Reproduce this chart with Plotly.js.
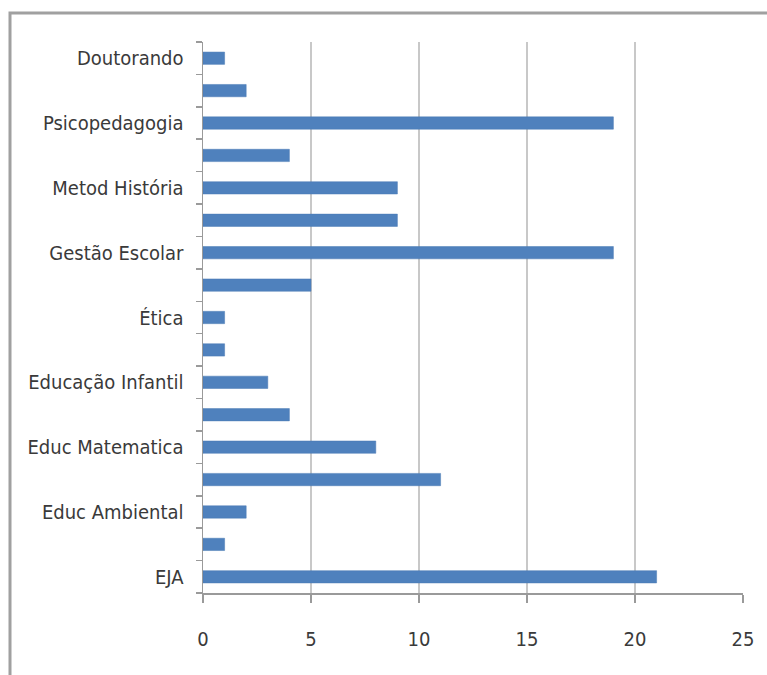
<!DOCTYPE html>
<html>
<head>
<meta charset="utf-8">
<script src="https://cdn.plot.ly/plotly-3.0.1.min.js"></script>
<style>
html,body{margin:0;padding:0;background:#fff;}
#chart{width:767px;height:675px;}
</style>
</head>
<body>
<div id="chart"></div>
<script>
// Categories from bottom to top (unlabeled ones are hidden by the axis, as in the original)
var categories = ["EJA", "(sem rótulo 1)", "Educ Ambiental", "(sem rótulo 2)", "Educ Matematica", "(sem rótulo 3)", "Educação Infantil", "(sem rótulo 4)", "Ética", "(sem rótulo 5)", "Gestão Escolar", "(sem rótulo 6)", "Metod História", "(sem rótulo 7)", "Psicopedagogia", "(sem rótulo 8)", "Doutorando"];
var values = [21, 1, 2, 11, 8, 4, 3, 1, 1, 5, 19, 9, 9, 4, 19, 2, 1];
var tickLabels = ["EJA", "", "Educ Ambiental", "", "Educ Matematica", "", "Educação Infantil", "", "Ética", "", "Gestão Escolar", "", "Metod História", "", "Psicopedagogia", "", "Doutorando"];
var xTicks = [0, 5, 10, 15, 20, 25];

var font = "'DejaVu Sans Condensed', 'Liberation Sans Narrow', Arial, sans-serif";

var trace = {
  type: "bar",
  orientation: "h",
  y: categories,
  x: values,
  marker: {color: "#4F81BD", line: {color: "#4A7AB5", width: 0.5}},
  hoverinfo: "x+y"
};

// pixel helpers for frame (plot area: x 203..743, y 42..593)
function px(v){ return (v - 203) / 540; }
function py(v){ return (593 - v) / 551; }

var layout = {
  width: 767,
  height: 675,
  margin: {l: 203, r: 24, t: 42, b: 82, pad: 0},
  paper_bgcolor: "#ffffff",
  plot_bgcolor: "#ffffff",
  showlegend: false,
  bargap: 0.62,
  font: {family: font, size: 20, color: "#3a3a3a"},
  xaxis: {
    range: [0, 25],
    tickvals: xTicks,
    ticktext: xTicks.map(String),
    showgrid: true,
    gridcolor: "#C8C8C8",
    gridwidth: 1.5,
    zeroline: false,
    showline: true,
    linecolor: "#9A9A9A",
    linewidth: 1.5,
    ticks: "outside",
    ticklen: 8,
    tickcolor: "#9A9A9A",
    tickwidth: 1.5,
    ticklabelstandoff: 19,
    tickfont: {family: font, size: 20, color: "#3a3a3a"},
    fixedrange: true
  },
  yaxis: {
    type: "category",
    categoryorder: "array",
    categoryarray: categories,
    tickvals: categories,
    ticktext: tickLabels,
    tickson: "boundaries",
    ticks: "outside",
    ticklen: 6,
    tickcolor: "#9A9A9A",
    tickwidth: 1.5,
    showgrid: false,
    showline: true,
    linecolor: "#9A9A9A",
    linewidth: 1.5,
    ticklabelstandoff: 14,
    tickfont: {family: font, size: 20, color: "#3a3a3a"},
    fixedrange: true
  },
  shapes: [
    {type: "rect", xref: "paper", yref: "paper",
     x0: px(10), x1: px(800), y0: py(720), y1: py(13),
     line: {color: "#A0A0A0", width: 3}, fillcolor: "rgba(0,0,0,0)", layer: "above"}
  ]
};

Plotly.newPlot("chart", [trace], layout, {displayModeBar: false, staticPlot: true});
</script>
</body>
</html>
